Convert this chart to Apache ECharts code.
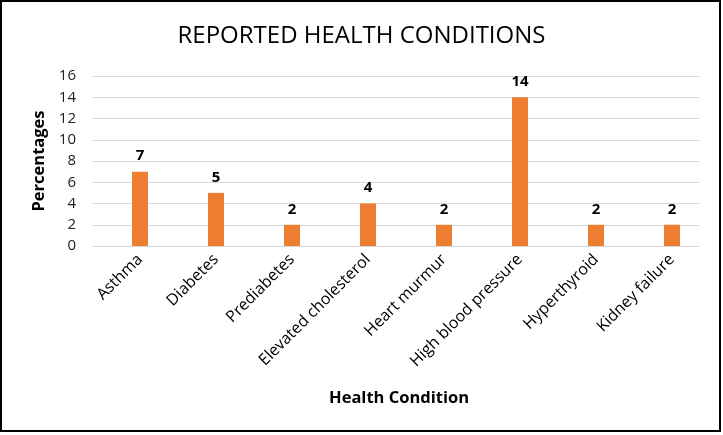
<!DOCTYPE html>
<html lang="en">
<head>
    <meta charset="UTF-8">
    <script src="https://cdn.jsdelivr.net/npm/echarts@6/dist/echarts.min.js"></script>
    <title>Reported Health Conditions</title>
    <style>
        body { margin: 0; background: #fff; }
        #chart { width: 723px; height: 435px; }
    </style>
</head>
<body>
<div id="chart"></div>
<script>
    let conditions = ['Asthma', 'Diabetes', 'Prediabetes', 'Elevated cholesterol', 'Heart murmur',
        'High blood pressure', 'Hyperthyroid', 'Kidney failure']
    let percentages = [7, 5, 2, 4, 2, 14, 2, 2]
    let yTicks = [0, 2, 4, 6, 8, 10, 12, 14, 16]

    let font = '"Open Sans", sans-serif'
    let chart = echarts.init(document.getElementById('chart'))

    let option = {
        animation: false,
        title: [
            {
                text: 'REPORTED HEALTH CONDITIONS',
                left: 'center', top: 19,
                textStyle: { fontFamily: font, fontSize: 24, fontWeight: 'normal', color: '#000' }
            },
            {
                text: 'Health Condition',
                left: 394, top: 385, textAlign: 'center',
                textStyle: { fontFamily: font, fontSize: 16.5, fontWeight: 'bold', color: '#000' }
            }
        ],
        graphic: [{
            type: 'rect',
            shape: { x: 1, y: 1, width: 719, height: 430 },
            style: { fill: 'none', stroke: '#000', lineWidth: 2 }
        }],
        // grid 0 carries the gridlines and y labels, grid 1 carries the bars
        grid: [
            { left: 92, right: 24, top: 76, bottom: 189 },
            { left: 102, right: 13, top: 76, bottom: 189 }
        ],
        xAxis: [
            { gridIndex: 0, type: 'category', data: conditions, show: false },
            {
                gridIndex: 1, type: 'category', data: conditions,
                axisLine: { show: false },
                axisTick: { show: false },
                axisLabel: { rotate: 45, margin: 11, fontFamily: font, fontSize: 16, color: '#000' }
            }
        ],
        yAxis: [
            {
                gridIndex: 0, type: 'value', min: 0, max: 16, interval: 2,
                name: 'Percentages', nameLocation: 'middle', nameGap: 44,
                nameTextStyle: { fontFamily: font, fontSize: 16.5, fontWeight: 'bold', color: '#000' },
                axisLabel: {
                    margin: 16, fontFamily: font, fontSize: 15, color: '#222',
                    formatter: v => yTicks.includes(v) ? String(v) : ''
                },
                splitLine: { lineStyle: { color: '#d9d9d9', width: 1 } }
            },
            { gridIndex: 1, type: 'value', min: 0, max: 16, interval: 2, show: false, splitLine: { show: false } }
        ],
        series: [{
            type: 'bar',
            xAxisIndex: 1, yAxisIndex: 1,
            data: percentages,
            barWidth: 16,
            itemStyle: { color: '#ED7D31' },
            label: {
                show: true, position: 'top', distance: 8,
                fontFamily: font, fontSize: 15, fontWeight: 'bold', color: '#000'
            }
        }]
    }
    chart.setOption(option)
</script>
</body>
</html>
